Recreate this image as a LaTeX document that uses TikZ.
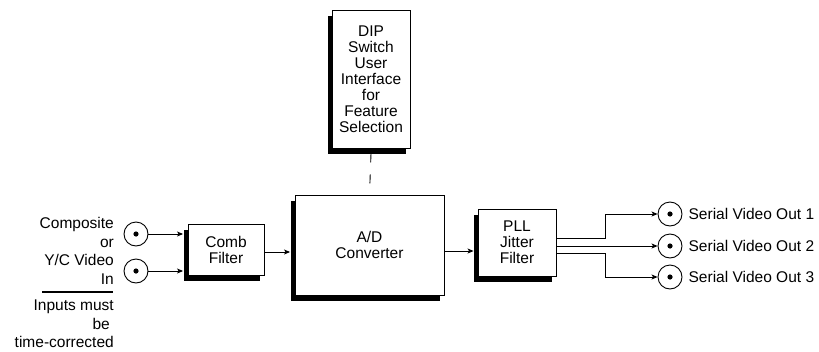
\documentclass[tikz,border=0pt]{standalone}
\usepackage{fontspec}
\setmainfont{Liberation Sans}
\usetikzlibrary{arrows.meta,shadows,calc}
\begin{document}
\begin{tikzpicture}[x=1pt,y=-1pt,
  blk/.style={draw=black, line width=0.9pt, fill=white, align=center, inner sep=0pt,
    drop shadow={shadow xshift=-4pt, shadow yshift=-5.5pt, fill=black, opacity=1},
    font=\fontsize{15.5}{16}\selectfont},
  lbl/.style={inner sep=0pt, font=\fontsize{15.5}{18.6}\selectfont},
  jack/.style={draw=black, line width=0.9pt, circle, minimum size=24pt, inner sep=0pt},
  arr/.style={line width=0.9pt, -{Stealth[length=6pt,width=5pt,inset=1.5pt]}},
  wire/.style={line width=0.9pt}]
\useasboundingbox (0,0) rectangle (819,351);

% boxes
\node[blk, minimum width=78pt, minimum height=138pt] (dip) at (371,79)
  {DIP\\Switch\\User\\Interface\\for\\Feature\\Selection};
\node[blk, minimum width=149pt, minimum height=100pt] (ad) at (369.5,245)
  {A/D\\Converter};
\node[blk, minimum width=76pt, minimum height=51pt] (comb) at (226,249.5)
  {Comb\\Filter};
\node[blk, minimum width=78pt, minimum height=67pt] (pll) at (517,242.5)
  {PLL\\Jitter\\Filter};

% input jacks
\node[jack] (in1) at (136,234) {};
\node[jack] (in2) at (136,271) {};
\fill (in1) circle[radius=2.6];
\fill (in2) circle[radius=2.6];

% output jacks
\node[jack] (o1) at (670,214) {};
\node[jack] (o2) at (670,246) {};
\node[jack] (o3) at (670,277) {};
\fill (o1) circle[radius=2.6];
\fill (o2) circle[radius=2.6];
\fill (o3) circle[radius=2.6];

% labels
\node[lbl, anchor=east, align=right] (inlbl) at (114,251)
  {Composite\\or\\Y/C Video\\In};
\draw[line width=2.5pt] (42,292) -- (113,292);
\node[lbl, anchor=east, align=right] (note) at (114,324)
  {Inputs must\\be\kern4pt\\time-corrected};
\node[lbl, anchor=west] (l1) at ($(o1.east)+(6,0)$) {Serial Video Out 1};
\node[lbl, anchor=west] (l2) at ($(o2.east)+(6,0)$) {Serial Video Out 2};
\node[lbl, anchor=west] (l3) at ($(o3.east)+(6,0)$) {Serial Video Out 3};

% coordinates at shadow edges
\coordinate (combL) at ($(comb.west)+(-4.5,0)$);
\coordinate (adL) at ($(ad.west)+(-4.5,0)$);
\coordinate (pllL) at ($(pll.west)+(-4,0)$);

% connectors
\draw[arr] (in1.east) -- (in1.east -| combL);
\draw[arr] (in2.east) -- (in2.east -| combL);
\coordinate (c1) at ($(comb.east)+(0,2.5)$);
\draw[arr] (c1) -- (c1 -| adL);
\coordinate (c2) at ($(ad.east)+(0,6)$);
\draw[arr] (c2) -- (c2 -| pllL);
\draw[wire, dash pattern=on 9pt off 12pt] ($(dip.south)+(0,5)$) -- (ad.north);

\coordinate (p1) at ($(pll.east)+(0,-4.5)$);
\coordinate (p3) at ($(pll.east)+(0,10.5)$);
\draw[arr] (p1) -- ++(49,0) |- (o1.west);
\draw[arr] (pll.east |- o2) -- (o2.west);
\draw[arr] (p3) -- ++(49,0) |- (o3.west);
\end{tikzpicture}
\end{document}
